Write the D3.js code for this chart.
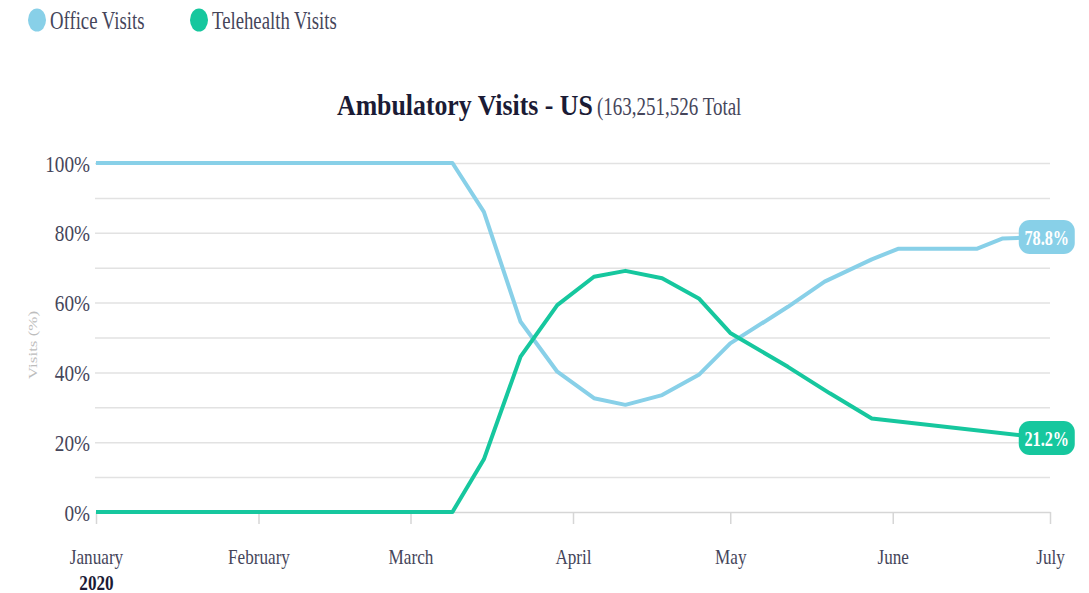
<!DOCTYPE html>
<html>
<head>
<meta charset="utf-8">
<script src="https://cdn.jsdelivr.net/npm/d3@7"></script>
<style>
  body { margin: 0; background: #fff; }
  svg { display: block; font-family: "Liberation Serif", "Times New Roman", serif; }
  .grid line { stroke: #e2e2e2; stroke-width: 1.5; }
  .grid path { display: none; }
  .y.axis path, .y.axis line { display: none; }
  .x.axis path, .x.axis line { stroke: #d6d6d6; stroke-width: 1.5; }
  .series { fill: none; stroke-width: 4; stroke-linejoin: round; }
</style>
</head>
<body>
<div id="chart"></div>
<script>
// data
const seriesNames = ["Office Visits", "Telehealth Visits"];
const seriesColors = ["#88d0e8", "#16c79e"];

const officeDates = ["2020-01-01", "2020-03-09", "2020-03-15", "2020-03-22", "2020-03-29", "2020-04-05",
  "2020-04-11", "2020-04-18", "2020-04-25", "2020-05-01", "2020-05-12", "2020-05-19", "2020-05-28",
  "2020-06-02", "2020-06-17", "2020-06-22", "2020-06-30"];
const officeValues = [100, 100, 86, 54.5, 40.2, 32.6, 30.7, 33.5, 39.3, 48.3, 58.8, 66, 72.4, 75.4, 75.4, 78.4, 78.8];

const teleDates = ["2020-01-01", "2020-03-09", "2020-03-15", "2020-03-22", "2020-03-29", "2020-04-05",
  "2020-04-11", "2020-04-18", "2020-04-25", "2020-05-01", "2020-05-12", "2020-05-20", "2020-05-28",
  "2020-06-30"];
const teleValues = [0, 0, 15.1, 44.5, 59.3, 67.4, 69.1, 67.0, 61.2, 51.3, 41.6, 34.0, 26.8, 21.2];

const yTickValues = [0, 20, 40, 60, 80, 100];
const yGridValues = [10, 20, 30, 40, 50, 60, 70, 80, 90, 100];
const monthLabels = ["January", "February", "March", "April", "May", "June", "July"];
const yearLabel = "2020";
const titleMain = "Ambulatory Visits - US";
const titleSub = "(163,251,526 Total";
const yAxisTitle = "Visits (%)";

const width = 1089, height = 593;
const margin = {top: 163, right: 39, bottom: 81, left: 96};

const parse = d3.timeParse("%Y-%m-%d");
const series = [
  {name: seriesNames[0], color: seriesColors[0], values: officeDates.map((d, i) => ({date: parse(d), value: officeValues[i]}))},
  {name: seriesNames[1], color: seriesColors[1], values: teleDates.map((d, i) => ({date: parse(d), value: teleValues[i]}))}
];

const xScale = d3.scaleTime()
  .domain([parse("2020-01-01"), parse("2020-07-01")])
  .range([margin.left, width - margin.right]);
const yScale = d3.scaleLinear()
  .domain([0, 100])
  .range([height - margin.bottom, margin.top]);

const svg = d3.select("#chart").append("svg")
  .attr("width", width)
  .attr("height", height);

// text squeezed horizontally like the original
function addText(parent, x, y, str, o) {
  const g = parent.append("g")
    .attr("transform", "translate(" + x + "," + y + ") scale(" + o.sx + ",1)" + (o.rotate ? " rotate(" + o.rotate + ")" : ""));
  return g.append("text")
    .attr("text-anchor", o.anchor || "start")
    .attr("font-size", o.size)
    .attr("font-weight", o.weight || "normal")
    .attr("fill", o.fill || "#444")
    .text(str);
}

// legend
const legendX = [37, 199];
series.forEach(function(s, i) {
  svg.append("ellipse")
    .attr("cx", legendX[i]).attr("cy", 20)
    .attr("rx", 9).attr("ry", 11.5)
    .attr("fill", s.color);
  addText(svg, legendX[i] + 13, 29, s.name, {sx: 0.75, size: 25, fill: "#45455a"});
});

// title
addText(svg, 337, 115, titleMain, {sx: 0.89, size: 29, weight: "bold", fill: "#1b1b35"});
addText(svg, 597, 115, titleSub, {sx: 0.76, size: 25, fill: "#45455a"});

// grid
svg.append("g")
  .attr("class", "grid")
  .attr("transform", "translate(" + (margin.left - 1) + ",0)")
  .call(d3.axisLeft(yScale).tickValues(yGridValues).tickSize(-(width - margin.left - margin.right + 1)).tickFormat(""));

// y axis
const sxTick = 0.8;
svg.append("g")
  .attr("class", "y axis")
  .attr("transform", "translate(" + margin.left + ",0)")
  .call(d3.axisLeft(yScale).tickValues(yTickValues).tickSize(0).tickFormat(d => d + "%"))
  .attr("font-family", null)
  .attr("font-size", 24)
  .call(g => g.selectAll("text")
    .attr("x", -6 / sxTick)
    .attr("dy", "0.34em")
    .attr("transform", "scale(" + sxTick + ",1)")
    .attr("fill", "#45455a"));

addText(svg, 37, 345, yAxisTitle, {sx: 0.78, size: 17, anchor: "middle", rotate: -90, fill: "#bdbdbd"});

// x axis
const sxX = 0.78;
svg.append("g")
  .attr("class", "x axis")
  .attr("transform", "translate(0," + yScale(0) + ")")
  .call(d3.axisBottom(xScale).ticks(d3.timeMonth.every(1)).tickSize(12).tickSizeOuter(0)
    .tickFormat(d => monthLabels[d.getMonth()]))
  .attr("font-family", null)
  .attr("font-size", 22)
  .call(g => g.selectAll("text")
    .attr("y", 52)
    .attr("dy", 0)
    .attr("transform", "scale(" + sxX + ",1)")
    .attr("fill", "#45455a"))
  .call(g => g.selectAll(".tick")
    .filter(d => d.getMonth() === 0)
    .select("text")
    .append("tspan")
    .attr("x", 0)
    .attr("dy", 26)
    .attr("font-weight", "bold")
    .attr("fill", "#1b1b35")
    .text(yearLabel));

// lines
const line = d3.line()
  .x(d => xScale(d.date))
  .y(d => yScale(d.value));

svg.selectAll(".series")
  .data(series)
  .enter()
  .append("path")
  .attr("class", "series")
  .attr("stroke", d => d.color)
  .attr("d", d => line(d.values));

// end labels
series.forEach(function(s) {
  const last = s.values[s.values.length - 1];
  const cx = xScale(last.date) + 2, cy = yScale(last.value);
  svg.append("rect")
    .attr("x", cx - 28).attr("y", cy - 17)
    .attr("width", 56).attr("height", 34)
    .attr("rx", 11)
    .attr("fill", s.color);
  addText(svg, cx, cy + 8, last.value.toFixed(1) + "%", {sx: 0.74, size: 22, weight: "bold", anchor: "middle", fill: "#fff"});
});
</script>
</body>
</html>
